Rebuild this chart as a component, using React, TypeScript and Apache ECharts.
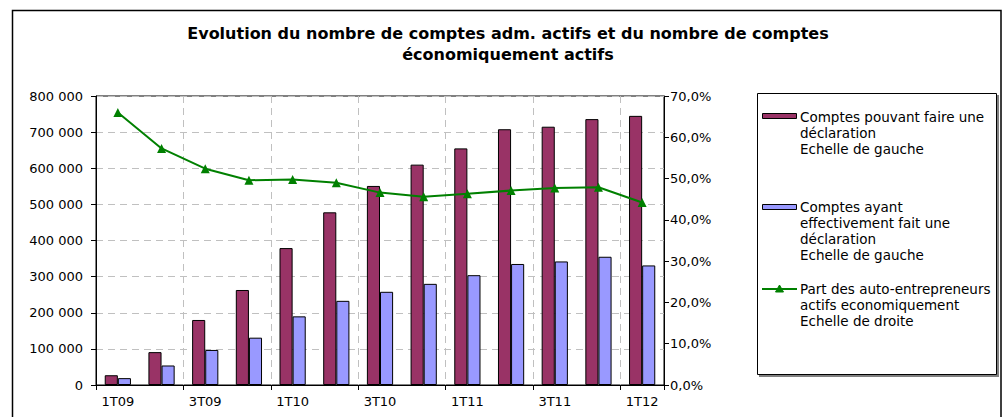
import React, { useEffect, useRef } from "react";
import * as echarts from "echarts";

const categories = ["1T09", "2T09", "3T09", "4T09", "1T10", "2T10", "3T10", "4T10", "1T11", "2T11", "3T11", "4T11", "1T12"];
const comptesPouvant = [27000, 91000, 180000, 263000, 379000, 478000, 551000, 610000, 655000, 708000, 715000, 736000, 745000];
const comptesAyant = [19000, 54000, 97000, 131000, 190000, 233000, 258000, 280000, 304000, 335000, 342000, 355000, 331000];
const partActifs = [66.0, 57.3, 52.4, 49.6, 49.8, 49.0, 46.6, 45.6, 46.3, 47.1, 47.7, 47.9, 44.2];

const titleText = "Evolution du nombre de comptes adm. actifs et du nombre de comptes\néconomiquement actifs";
const legendPouvant = "Comptes pouvant faire une\ndéclaration\nEchelle de gauche";
const legendAyant = "Comptes ayant\neffectivement fait une\ndéclaration\nEchelle de gauche";
const legendPart = "Part des auto-entrepreneurs\nactifs economiquement\nEchelle de droite";

const FONT = "'DejaVu Sans', sans-serif";
const MAROON = "#993366";
const BLUE = "#9999FF";
const GREEN = "#008000";

export default function App() {
  const ref = useRef<HTMLDivElement>(null);
  useEffect(() => {
    document.body.style.margin = "0";
    const chart = echarts.init(ref.current!, null, { renderer: "svg" });
    const legendText = (x: number, y: number, text: string) => ({
      type: "text",
      x,
      y,
      style: { text, fontFamily: FONT, fontSize: 13.5, fill: "#000", lineHeight: 16, verticalAlign: "top", align: "left" },
      z: 100,
    });
    chart.setOption({
      animation: false,
      backgroundColor: "#fff",
      textStyle: { fontFamily: FONT },
      title: {
        text: titleText,
        left: 508,
        textAlign: "center",
        top: 23,
        padding: 0,
        textStyle: { fontFamily: FONT, fontSize: 16, fontWeight: "bold", color: "#000", lineHeight: 21 },
      },
      grid: { left: 96, right: 338, top: 96, bottom: 32, show: true, borderColor: "#000", borderWidth: 1, backgroundColor: "transparent" },
      xAxis: {
        type: "category",
        data: categories,
        boundaryGap: true,
        axisLine: { lineStyle: { color: "#000", width: 1 } },
        axisTick: { show: true, interval: 1, length: 5, lineStyle: { color: "#000" } },
        axisLabel: { interval: 1, color: "#000", fontSize: 13, fontFamily: FONT, margin: 10 },
        splitLine: { show: true, interval: 1, lineStyle: { color: "#c0c0c0", type: [7, 5], width: 1 } },
      },
      yAxis: [
        {
          type: "value",
          min: 0,
          max: 800000,
          interval: 100000,
          axisLine: { show: true, lineStyle: { color: "#000" } },
          axisTick: { show: true, length: 5, lineStyle: { color: "#000" } },
          axisLabel: {
            color: "#000",
            fontSize: 13,
            fontFamily: FONT,
            margin: 13,
            formatter: (v: number) => String(v).replace(/\B(?=(\d{3})+(?!\d))/g, " "),
          },
          splitLine: { show: true, lineStyle: { color: "#c0c0c0", type: [7, 5], width: 1 } },
        },
        {
          type: "value",
          min: 0,
          max: 70,
          interval: 10,
          position: "right",
          axisLine: { show: true, lineStyle: { color: "#000" } },
          axisTick: { show: true, length: 5, lineStyle: { color: "#000" } },
          axisLabel: {
            color: "#000",
            fontSize: 13,
            fontFamily: FONT,
            margin: 6,
            formatter: (v: number) => v.toFixed(1).replace(".", ",") + "%",
          },
          splitLine: { show: false },
        },
      ],
      legend: { show: false },
      series: [
        {
          name: "Comptes pouvant faire une déclaration",
          type: "bar",
          data: comptesPouvant,
          barGap: "0%",
          barCategoryGap: "40%",
          itemStyle: { color: MAROON, borderColor: "#000", borderWidth: 1 },
        },
        {
          name: "Comptes ayant effectivement fait une déclaration",
          type: "bar",
          data: comptesAyant,
          barGap: "0%",
          barCategoryGap: "40%",
          itemStyle: { color: BLUE, borderColor: "#000", borderWidth: 1 },
        },
        {
          name: "Part des auto-entrepreneurs actifs economiquement",
          type: "line",
          yAxisIndex: 1,
          data: partActifs,
          symbol: "triangle",
          symbolSize: 9,
          lineStyle: { color: GREEN, width: 2 },
          itemStyle: { color: GREEN },
          z: 10,
        },
      ],
      graphic: [
        {
          type: "rect",
          shape: { x: 12.5, y: 10.5, width: 988.5, height: 430 },
          style: { fill: "none", stroke: "#000", lineWidth: 1.5 },
          z: 50,
        },
        {
          type: "rect",
          shape: { x: 759, y: 95, width: 240, height: 282 },
          style: { fill: "#808080", stroke: "none" },
          z: 90,
        },
        {
          type: "rect",
          shape: { x: 757.5, y: 93.5, width: 239, height: 281 },
          style: { fill: "#fff", stroke: "#000", lineWidth: 1 },
          z: 91,
        },
        {
          type: "rect",
          shape: { x: 762.5, y: 113.5, width: 34, height: 5 },
          style: { fill: MAROON, stroke: "#000", lineWidth: 1 },
          z: 100,
        },
        legendText(800, 109, legendPouvant),
        {
          type: "rect",
          shape: { x: 762.5, y: 204.5, width: 34, height: 5 },
          style: { fill: BLUE, stroke: "#000", lineWidth: 1 },
          z: 100,
        },
        legendText(800, 199, legendAyant),
        {
          type: "line",
          shape: { x1: 762, y1: 289, x2: 797, y2: 289 },
          style: { stroke: GREEN, lineWidth: 2 },
          z: 100,
        },
        {
          type: "polygon",
          shape: { points: [[779.5, 285], [775.5, 292], [783.5, 292]] },
          style: { fill: GREEN, stroke: GREEN, lineWidth: 1 },
          z: 101,
        },
        legendText(800, 281, legendPart),
      ],
    });
    return () => chart.dispose();
  }, []);
  return <div ref={ref} style={{ width: 1002, height: 417, position: "absolute", left: 0, top: 0 }} />;
}
